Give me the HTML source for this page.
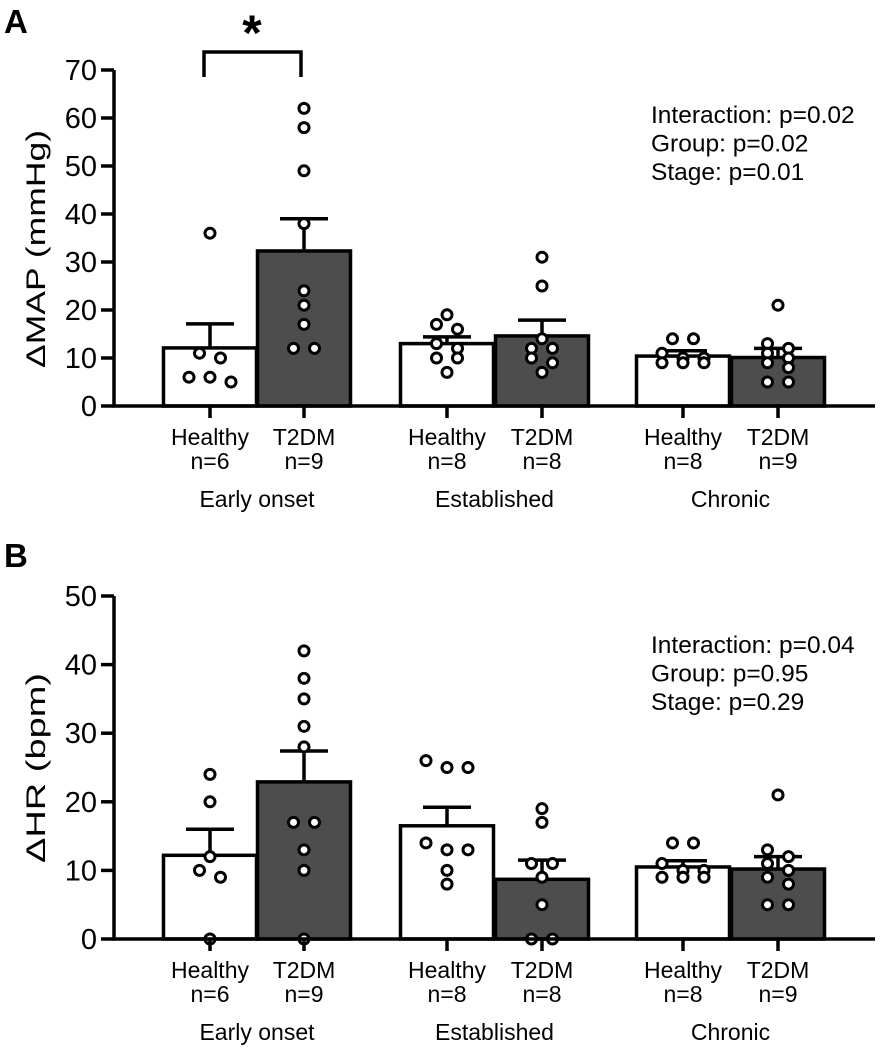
<!DOCTYPE html>
<html><head><meta charset="utf-8"><style>
html,body{margin:0;padding:0;background:#fff;}
svg{display:block;font-family:"Liberation Sans",Arial,sans-serif;}
</style></head><body>
<svg id="chart" width="894" height="1052" viewBox="0 0 894 1052"></svg>
<script>
const groups = ["Healthy","T2DM","Healthy","T2DM","Healthy","T2DM"];
const nLabels = ["n=6","n=9","n=8","n=8","n=8","n=9"];
const stages = ["Early onset","Established","Chronic"];
const mapMeans = [12.1,32.3,13,14.6,10.4,10.1];
const mapSem = [17.1,39,14.4,17.9,11.5,12];
const mapPoints = [[36,11,10,6,6,5],[62,58,49,38,24,21,17,12,12],[19,17,16,13,12,10,10,7],[31,25,14,12,12,10,9,7],[14,14,11,10,10,9,9,9],[21,13,12,11,10,9,8,5,5]];
const hrMeans = [12.2,22.9,16.5,8.7,10.5,10.2];
const hrSem = [16,27.4,19.2,11.5,11.4,12];
const hrPoints = [[24,20,12,10,9,0],[42,38,35,31,28,17,17,13,10,0],[25,25,26,14,13,13,10,8],[19,17,11,11,9,5,0,0],[14,14,11,10,10,9,9,9],[21,13,12,11,10,9,8,5,5]];
const mapTicks = [0,10,20,30,40,50,60,70];
const hrTicks = [0,10,20,30,40,50];
const mapStats = ["Interaction: p=0.02","Group: p=0.02","Stage: p=0.01"];
const hrStats = ["Interaction: p=0.04","Group: p=0.95","Stage: p=0.29"];

const NS="http://www.w3.org/2000/svg";
const svg=document.getElementById('chart');
function mk(tag,attrs,parent,text){const e=document.createElementNS(NS,tag);for(const k in attrs)e.setAttribute(k,attrs[k]);if(text!==undefined)e.textContent=text;(parent||svg).appendChild(e);return e;}
const centers=[210,304,447,542,683,778];
const barW=93, axisX=114, axisEnd=875;

function panel(p){
  const g=mk('g',{});
  
  
  const y=v=>p.y0-v*(p.y0-p.yTop)/p.max;
  const L=mk('text',{x:4,y:p.y0-p.letterOff,'font-size':33,'font-weight':'bold'},g,p.letter);
  
  
  for(let i=0;i<6;i++){
    const cx=centers[i];
    const b=mk('rect',{x:cx-barW/2,y:y(p.means[i]),width:barW,height:p.y0-y(p.means[i]),fill:i%2?'#4d4d4d':'#ffffff',stroke:'#000','stroke-width':3.5},g);
    
    
    const e=mk('path',{d:`M${cx},${y(p.means[i])}V${y(p.sem[i])}M${cx-24},${y(p.sem[i])}H${cx+24}`,stroke:'#000','stroke-width':3.5,fill:'none'},g);
    
    
    const pts=p.points[i].slice().sort((a,b)=>b-a);
    const rows=[];
    for(const v of pts){
      const py=y(v);
      const last=rows[rows.length-1];
      if(last && Math.abs(last.y0-py)<9) last.ys.push(py); else rows.push({y0:py,ys:[py]});
    }
    for(const row of rows){
      const n=row.ys.length;
      row.ys.forEach((py,k)=>{
        const px=cx+(k-(n-1)/2)*21;
        const c=mk('circle',{cx:px,cy:py,r:5,fill:'#fff',stroke:'#000','stroke-width':3},g);
        
        
      });
    }
  }
  const ax=mk('path',{d:`M${axisX},${p.yTop}V${p.y0}H${axisEnd}`,stroke:'#000','stroke-width':3.5,fill:'none'},g);
  
  
  for(const t of p.ticks){
    const tk=mk('path',{d:`M${axisX-13},${y(t)}H${axisX}`,stroke:'#000','stroke-width':3.5},g);
    
    
    const tl=mk('text',{x:97,y:y(t)+10,'font-size':29,'text-anchor':'end'},g,String(t));
    
    
  }
  for(let i=0;i<6;i++){
    const cx=centers[i];
    const tk=mk('path',{d:`M${cx},${p.y0}V${p.y0+12}`,stroke:'#000','stroke-width':3.5},g);
    
    
    const t1=mk('text',{x:cx,y:p.y0+39,'font-size':23,'text-anchor':'middle'},g,groups[i]);
    
    
    const t2=mk('text',{x:cx,y:p.y0+63,'font-size':23,'text-anchor':'middle'},g,nLabels[i]);
    
    
  }
  for(let s=0;s<3;s++){
    const sx=(centers[2*s]+centers[2*s+1])/2;
    const st=mk('text',{x:sx,y:p.y0+101,'font-size':23,'text-anchor':'middle'},g,stages[s]);
    
    
  }
  const yt=mk('text',{x:0,y:0,'font-size':27,'text-anchor':'middle',textLength:p.titleLen,lengthAdjust:'spacingAndGlyphs',transform:`translate(45,${p.titleY}) rotate(-90)`},g,p.title);
  
  
  p.stats.forEach((s,k)=>{
    const a=mk('text',{x:651,y:p.statY+k*28.5,'font-size':24.5},g,s);
    
    
  });
}
panel({name:'panel-a-map',letter:'A',letterOff:373,y0:406,yTop:70,max:70,means:mapMeans,sem:mapSem,points:mapPoints,ticks:mapTicks,title:'ΔMAP (mmHg)',titleLen:238,titleY:249,stats:mapStats,statY:123});
panel({name:'panel-b-hr',letter:'B',letterOff:372,y0:939,yTop:596,max:50,means:hrMeans,sem:hrSem,points:hrPoints,ticks:hrTicks,title:'ΔHR (bpm)',titleLen:190,titleY:768,stats:hrStats,statY:653});
const br=mk('path',{d:'M204,77V52H301V77',stroke:'#000','stroke-width':3.5,fill:'none'});


const as=mk('text',{x:252,y:50,'font-size':50,'font-weight':'bold','text-anchor':'middle'},svg,'*');


</script>
</body></html>
